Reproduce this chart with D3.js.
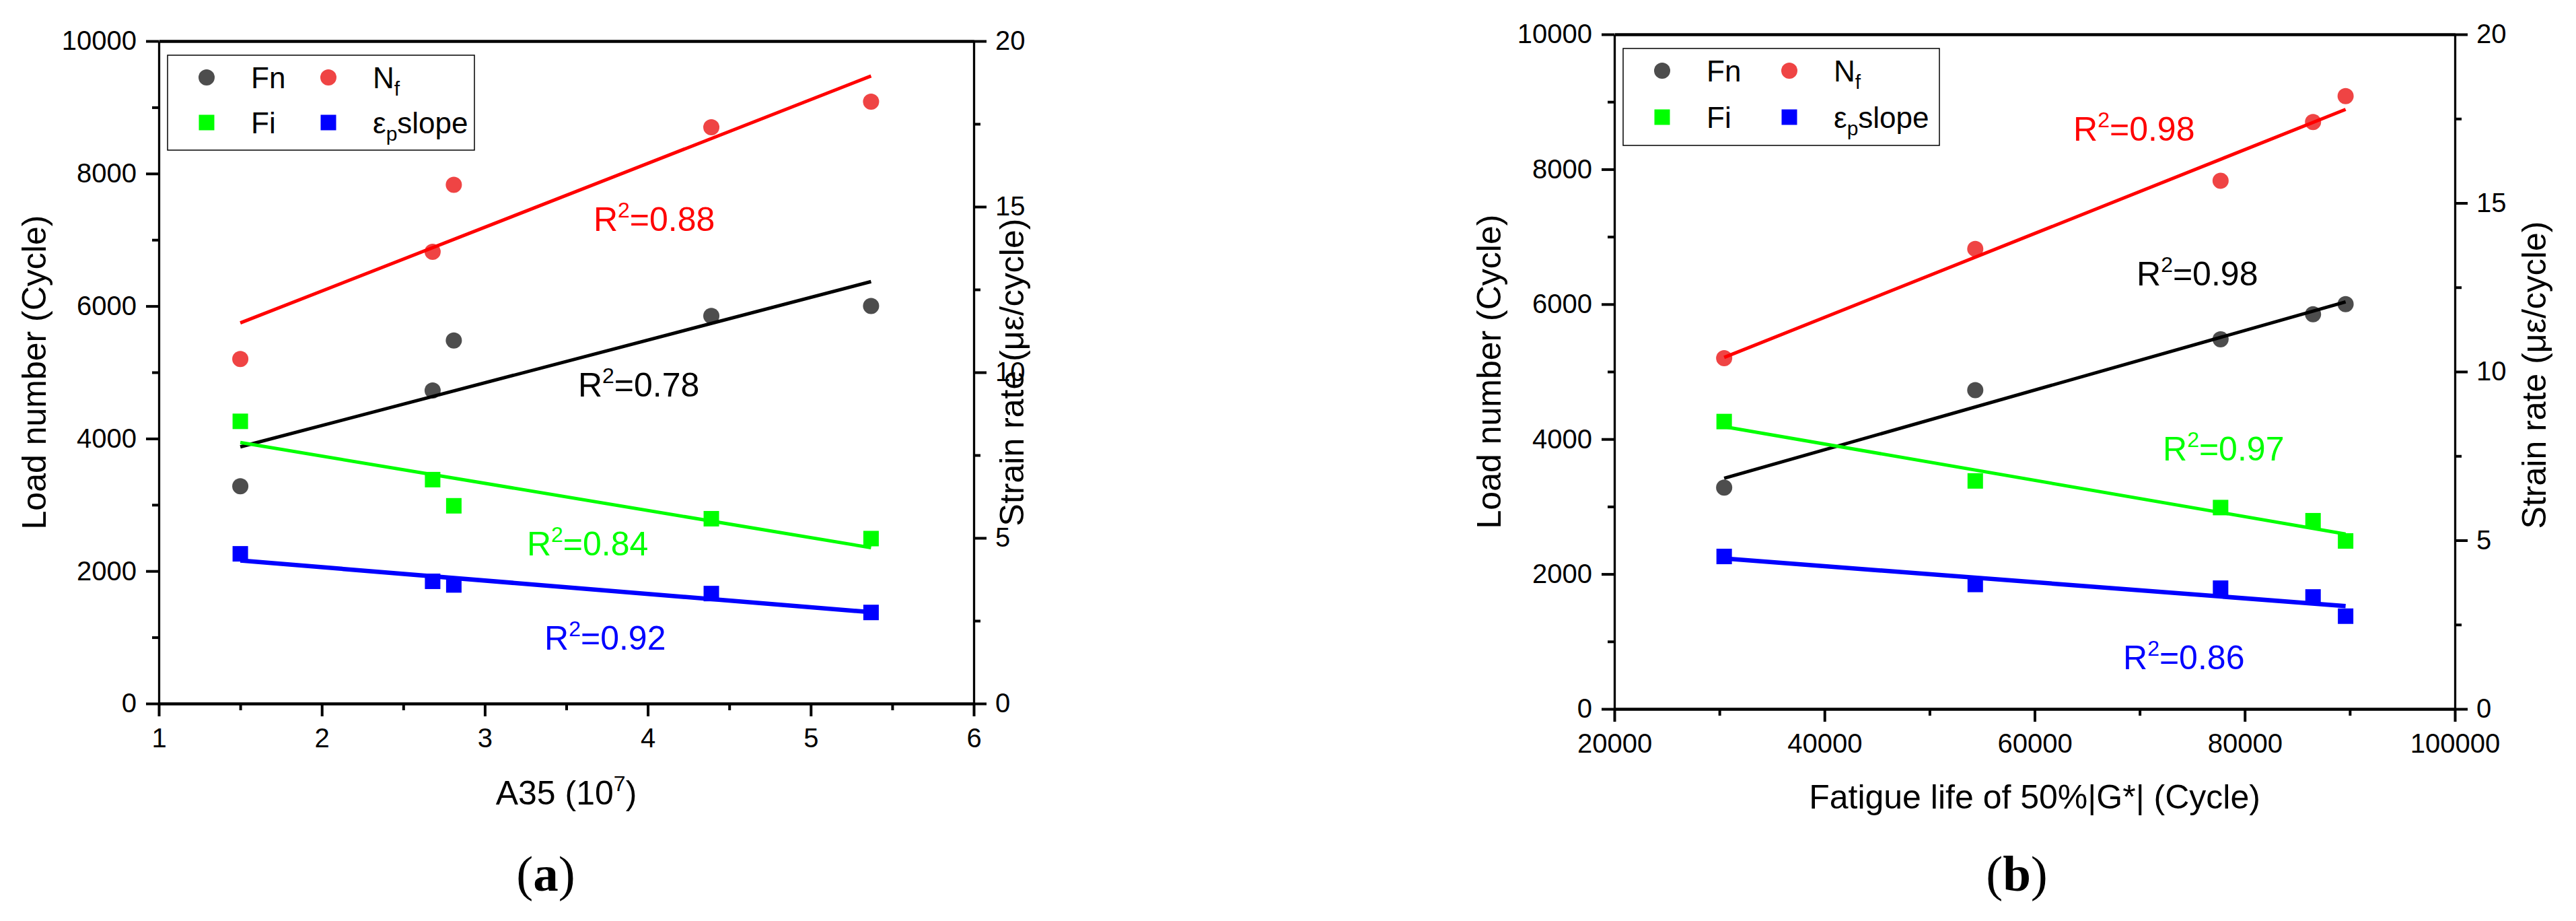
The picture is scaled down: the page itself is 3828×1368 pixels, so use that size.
<!DOCTYPE html>
<html>
<head>
<meta charset="utf-8">
<script src="https://cdn.jsdelivr.net/npm/d3@7"></script>
<style>
  html, body { margin: 0; padding: 0; background: #fff; }
  svg { display: block; }
  text { font-family: "Liberation Sans", Arial, sans-serif; fill: #000; }
</style>
</head>
<body>
<div id="chart"></div>
<script>
// samples (same five mixtures in both panels)
const a35 = [1.5, 2.68, 2.81, 4.39, 5.37];
const fatigueLife = [30450, 54350, 77700, 86500, 89600];
const fnLoad = [3280, 4725, 5480, 5850, 6000];
const nfLoad = [5200, 6820, 7830, 8700, 9085];
const fiRate = [8.52, 6.76, 5.97, 5.58, 4.98];
const epRate = [4.52, 3.69, 3.58, 3.32, 2.75];

// R^2 labels, order: Fn, Nf, Fi, εp slope
const r2PanelA = ["0.78", "0.88", "0.84", "0.92"];
const r2PanelB = ["0.98", "0.98", "0.97", "0.86"];

const loadTicks = [0, 2000, 4000, 6000, 8000, 10000];
const loadMinor = [1000, 3000, 5000, 7000, 9000];
const rateTicks = [0, 5, 10, 15, 20];
const rateMinor = [2.5, 7.5, 12.5, 17.5];
const a35Ticks = [1, 2, 3, 4, 5, 6];
const a35Minor = [1.5, 2.5, 3.5, 4.5, 5.5];
const lifeTicks = [20000, 40000, 60000, 80000, 100000];
const lifeMinor = [30000, 50000, 70000, 90000];

const width = 3828, height = 1368;

const svg = d3.select("#chart").append("svg")
    .attr("width", width)
    .attr("height", height);
svg.append("rect").attr("width", width).attr("height", height).attr("fill", "#fff");

function linearFit(xs, ys) {
    const mx = d3.mean(xs), my = d3.mean(ys);
    let sxy = 0, sxx = 0;
    xs.forEach((v, i) => { sxy += (v - mx) * (ys[i] - my); sxx += (v - mx) * (v - mx); });
    const slope = sxy / sxx;
    return v => my + slope * (v - mx);
}

function styleAxis(sel, domainWidth, fontSize) {
    sel.select(".domain").attr("stroke", "#000").attr("stroke-width", domainWidth);
    sel.selectAll(".tick line").attr("stroke", "#000").attr("stroke-width", 4);
    sel.selectAll(".tick text")
        .attr("font-size", fontSize)
        .attr("font-family", "'Liberation Sans', Arial, sans-serif")
        .attr("fill", "#000");
    sel.attr("font-size", null).attr("font-family", null);
}

function drawPanel(p) {
    const g = svg.append("g");
    const x = d3.scaleLinear().domain(p.xDomain).range([p.x0, p.x1]);
    const yL = d3.scaleLinear().domain([0, 10000]).range([p.yBot, p.yTop]);
    const yR = d3.scaleLinear().domain([0, 20]).range([p.yBot, p.yTop]);

    const series = [
        { name: "Fn", ys: fnLoad, y: yL, shape: "circle", fill: "#4d4d4d", line: "#000000", lw: 5, r2: p.r2[0] },
        { name: "Nf", ys: nfLoad, y: yL, shape: "circle", fill: "#ef4444", line: "#ff0000", lw: 5, r2: p.r2[1] },
        { name: "Fi", ys: fiRate, y: yR, shape: "square", fill: "#00ff00", line: "#00ff00", lw: 5, r2: p.r2[2] },
        { name: "ep", ys: epRate, y: yR, shape: "square", fill: "#0000ff", line: "#0000ff", lw: 6.5, r2: p.r2[3] }
    ];

    // minor ticks
    styleAxis(g.append("g").attr("transform", `translate(0,${p.yBot})`)
        .call(d3.axisBottom(x).tickValues(p.xMinor).tickSize(10).tickFormat("").tickSizeOuter(0))
        .call(s => s.select(".domain").remove()), 4, 40);
    styleAxis(g.append("g").attr("transform", `translate(${p.x0},0)`)
        .call(d3.axisLeft(yL).tickValues(loadMinor).tickSize(10).tickFormat("").tickSizeOuter(0))
        .call(s => s.select(".domain").remove()), 4, 40);
    styleAxis(g.append("g").attr("transform", `translate(${p.x1},0)`)
        .call(d3.axisRight(yR).tickValues(rateMinor).tickSize(10).tickFormat("").tickSizeOuter(0))
        .call(s => s.select(".domain").remove()), 4, 40);

    // major axes
    styleAxis(g.append("g").attr("transform", `translate(0,${p.yTop})`)
        .call(d3.axisTop(x).tickValues([]).tickSizeOuter(0)), 4.5, 40);
    styleAxis(g.append("g").attr("transform", `translate(0,${p.yBot})`)
        .call(d3.axisBottom(x).tickValues(p.xTicks).tickSize(19).tickPadding(18)
            .tickFormat(d3.format("d")).tickSizeOuter(0)), 4.5, 40);
    styleAxis(g.append("g").attr("transform", `translate(${p.x0},0)`)
        .call(d3.axisLeft(yL).tickValues(loadTicks).tickSize(19).tickPadding(14)
            .tickFormat(d3.format("d")).tickSizeOuter(0)), 3.3, 40);
    styleAxis(g.append("g").attr("transform", `translate(${p.x1},0)`)
        .call(d3.axisRight(yR).tickValues(rateTicks).tickSize(19).tickPadding(13)
            .tickFormat(d3.format("d")).tickSizeOuter(0)), 3.3, 40);

    // points
    series.forEach(s => {
        const pts = p.xs.map((v, i) => ({ x: v, y: s.ys[i] }));
        if (s.shape === "circle") {
            g.append("g").selectAll("circle").data(pts).join("circle")
                .attr("cx", d => x(d.x)).attr("cy", d => s.y(d.y))
                .attr("r", 12).attr("fill", s.fill);
        } else {
            g.append("g").selectAll("rect").data(pts).join("rect")
                .attr("x", d => x(d.x) - 11.5).attr("y", d => s.y(d.y) - 11.5)
                .attr("width", 23).attr("height", 23).attr("fill", s.fill);
        }
    });

    // fitted lines
    series.forEach(s => {
        const f = linearFit(p.xs, s.ys);
        const ext = d3.extent(p.xs);
        g.append("line")
            .attr("x1", x(ext[0])).attr("y1", s.y(f(ext[0])))
            .attr("x2", x(ext[1])).attr("y2", s.y(f(ext[1])))
            .attr("stroke", s.line).attr("stroke-width", s.lw);
    });

    // R^2 labels (positions in data space)
    series.forEach((s, i) => {
        const pos = p.r2Pos[i];
        const t = g.append("text")
            .attr("x", x(pos[0])).attr("y", yL(pos[1]))
            .attr("font-size", 50).attr("fill", s.line).style("fill", s.line);
        t.append("tspan").text("R");
        t.append("tspan").attr("font-size", 32).attr("dy", -20).text("2");
        t.append("tspan").attr("dy", 20).text("=" + s.r2);
    });

    // legend
    const lg = g.append("g").attr("transform", `translate(${p.legend.x},${p.legend.y})`);
    lg.append("rect").attr("width", p.legend.w).attr("height", p.legend.h)
        .attr("fill", "#fff").attr("stroke", "#000").attr("stroke-width", 1.5);
    const cols = [58, p.legend.col2];
    const rows = [33, p.legend.row2];
    const items = [
        { s: series[0], label: [["Fn", 0]] },
        { s: series[1], label: [["N", 0], ["f", 1]] },
        { s: series[2], label: [["Fi", 0]] },
        { s: series[3], label: [["ε", 0], ["p", 1], ["slope", -1]] }
    ];
    items.forEach((it, i) => {
        const cx = cols[i % 2], cy = rows[Math.floor(i / 2)];
        if (it.s.shape === "circle") {
            lg.append("circle").attr("cx", cx).attr("cy", cy).attr("r", 12).attr("fill", it.s.fill);
        } else {
            lg.append("rect").attr("x", cx - 11.5).attr("y", cy - 11.5)
                .attr("width", 23).attr("height", 23).attr("fill", it.s.fill);
        }
        const t = lg.append("text").attr("x", cx + 66).attr("y", cy + 16).attr("font-size", 44);
        it.label.forEach(([txt, kind]) => {
            const ts = t.append("tspan").text(txt);
            if (kind === 1) ts.attr("font-size", 30).attr("dy", 11);
            if (kind === -1) ts.attr("dy", -11);
        });
    });

    // axis titles
    const xt = g.append("text")
        .attr("x", (p.x0 + p.x1) / 2).attr("y", p.xTitleY)
        .attr("text-anchor", "middle").attr("font-size", 50);
    p.xTitle.forEach(([txt, kind]) => {
        const ts = xt.append("tspan").text(txt);
        if (kind === 1) ts.attr("font-size", 32).attr("dy", -20);
        if (kind === -1) ts.attr("dy", 20);
    });

    g.append("text")
        .attr("transform", `translate(${p.yTitleL},${(p.yTop + p.yBot) / 2}) rotate(-90)`)
        .attr("text-anchor", "middle").attr("font-size", 50)
        .text("Load number (Cycle)");
    g.append("text")
        .attr("transform", `translate(${p.yTitleR},${p.yTitleRc}) rotate(-90)`)
        .attr("text-anchor", "middle").attr("font-size", 50)
        .text("Strain rate (με/cycle)");

    // caption
    const cap = g.append("text")
        .attr("x", p.capX).attr("y", 1323)
        .attr("text-anchor", "middle").attr("font-size", 75)
        .style("font-family", "'Liberation Serif', 'Times New Roman', serif");
    cap.append("tspan").text("(");
    cap.append("tspan").attr("font-weight", "bold").text(p.cap);
    cap.append("tspan").text(")");
}

drawPanel({
    xs: a35, xDomain: [1, 6], xTicks: a35Ticks, xMinor: a35Minor,
    x0: 236, x1: 1447, yTop: 61, yBot: 1045,
    r2: r2PanelA,
    r2Pos: [[3.572, 4634], [3.667, 7134], [3.258, 2236], [3.366, 813]],
    legend: { x: 249, y: 82, w: 456, h: 141, col2: 239, row2: 100 },
    xTitle: [["A35 (10", 0], ["7", 1], [")", -1]], xTitleY: 1195,
    yTitleL: 68, yTitleR: 1521, yTitleRc: 553, capX: 811, cap: "a"
});

drawPanel({
    xs: fatigueLife, xDomain: [20000, 100000], xTicks: lifeTicks, xMinor: lifeMinor,
    x0: 2399, x1: 3648, yTop: 51, yBot: 1053,
    r2: r2PanelB,
    r2Pos: [[69705, 6277], [63685, 8423], [72203, 3683], [68424, 589]],
    legend: { x: 2412, y: 72, w: 470, h: 144, col2: 247, row2: 102 },
    xTitle: [["Fatigue life of 50%|G*| (Cycle)", 0]], xTitleY: 1201,
    yTitleL: 2230, yTitleR: 3783, yTitleRc: 557, capX: 2997, cap: "b"
});
</script>
</body>
</html>
